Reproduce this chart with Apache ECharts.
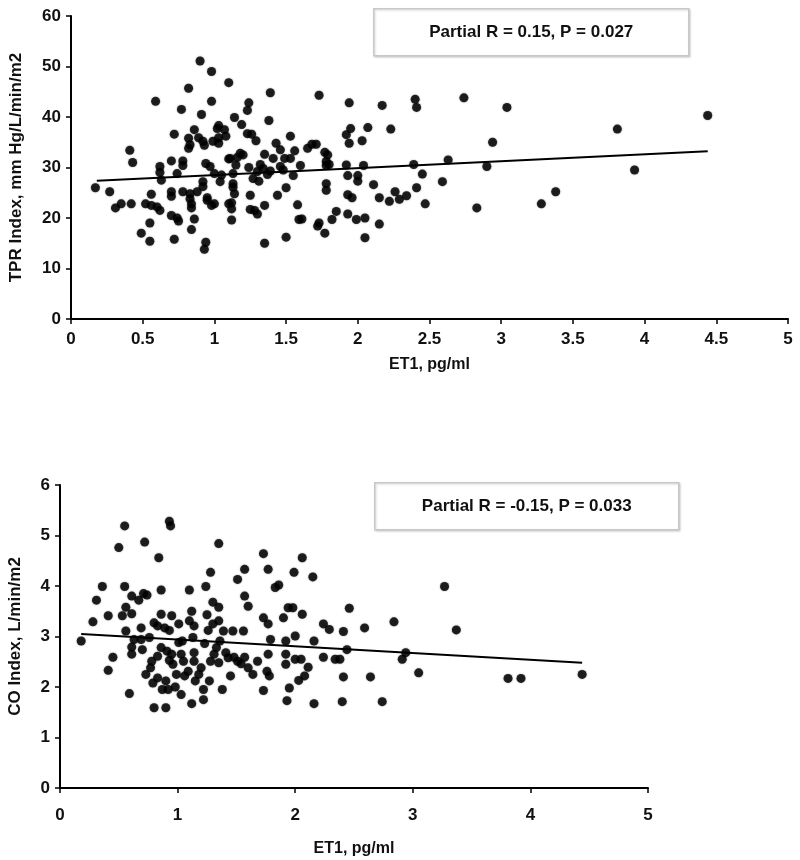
<!DOCTYPE html>
<html>
<head>
<meta charset="utf-8">
<script src="https://cdn.jsdelivr.net/npm/echarts@6/dist/echarts.min.js"></script>
<style>html,body{margin:0;padding:0;background:#fff;}#c{width:800px;height:860px;}</style>
</head>
<body>
<div id="c"></div>
<script>
// ---- Top panel: TPR Index vs ET1 ----
var tprX = [0.17,0.27,0.31,0.35,0.41,0.43,0.42,0.49,0.52,0.55,0.55,0.56,0.56,0.59,0.60,0.62,0.62,0.63,0.62,0.70,0.70,0.70,0.70,0.72,0.72,0.74,0.74,0.75,0.77,0.78,0.78,0.78,0.82,0.82,0.83,0.82,0.83,0.83,0.84,0.84,0.84,0.86,0.86,0.88,0.89,0.90,0.91,0.92,0.92,0.92,0.93,0.93,0.94,0.94,0.95,0.95,0.98,0.98,0.98,0.97,0.99,1.00,1.00,1.02,1.03,1.03,1.03,1.04,1.05,1.07,1.08,1.10,1.10,1.10,1.11,1.12,1.12,1.12,1.13,1.13,1.13,1.14,1.14,1.15,1.16,1.18,1.19,1.20,1.23,1.24,1.23,1.24,1.25,1.25,1.26,1.27,1.28,1.29,1.30,1.30,1.31,1.32,1.34,1.35,1.35,1.35,1.37,1.38,1.39,1.39,1.41,1.43,1.44,1.46,1.46,1.48,1.49,1.50,1.50,1.53,1.53,1.55,1.56,1.58,1.59,1.61,1.60,1.65,1.68,1.71,1.72,1.73,1.73,1.77,1.77,1.78,1.78,1.78,1.78,1.79,1.80,1.82,1.85,1.92,1.92,1.93,1.93,1.93,1.94,1.94,1.95,1.96,1.99,2.00,2.00,2.03,2.04,2.05,2.05,2.07,2.11,2.15,2.15,2.17,2.22,2.23,2.26,2.29,2.34,2.39,2.40,2.41,2.41,2.45,2.47,2.59,2.63,2.74,2.83,2.90,2.94,3.04,3.28,3.38,3.81,3.93,4.44];
var tprY = [26.0,25.2,22.0,22.8,33.4,31.0,22.8,17.0,22.8,15.4,19.0,24.7,22.5,43.1,22.2,30.2,29.0,27.5,21.5,20.5,31.3,25.2,24.3,36.6,15.8,20.0,28.8,19.4,41.5,31.3,30.4,25.2,45.7,35.8,34.5,33.8,24.8,23.8,22.8,22.0,17.7,37.5,19.8,25.2,35.9,51.1,40.5,35.2,27.2,26.2,34.4,13.8,15.2,30.8,24.0,23.5,49.0,43.1,22.5,30.2,35.2,28.8,22.8,37.7,34.8,35.9,38.3,27.2,28.5,37.5,36.2,22.8,46.8,31.7,31.8,23.0,21.8,19.6,28.8,26.8,26.1,24.8,39.9,30.5,32.0,32.8,38.5,32.5,41.3,42.8,36.7,30.0,24.5,21.7,36.6,27.8,21.5,35.3,20.8,29.2,27.3,30.6,29.8,15.0,22.5,32.6,28.6,39.3,44.8,29.3,31.8,34.8,24.5,33.5,30.2,29.5,31.8,26.0,16.2,36.2,31.8,28.4,33.3,22.6,19.7,19.8,30.4,33.8,34.6,34.6,18.4,19.0,44.3,17.0,33.0,31.2,30.4,26.8,25.5,32.5,30.6,19.7,21.3,36.5,30.5,28.4,24.6,20.8,42.8,34.8,37.7,24.0,19.7,28.4,27.3,35.3,30.4,20.0,16.1,37.9,26.6,18.8,24.0,42.3,23.3,37.6,25.2,23.7,24.4,30.6,43.5,26.0,41.9,28.7,22.8,27.2,31.5,43.8,22.0,30.2,35.0,41.9,22.8,25.2,37.6,29.5,40.3];
var tprTrendX = [0.18, 4.44];
var tprTrendY = [27.4, 33.2];
var tprLabel = 'Partial R = 0.15, P = 0.027';

// ---- Bottom panel: CO Index vs ET1 ----
var coX = [0.18,0.28,0.31,0.36,0.41,0.41,0.45,0.50,0.53,0.55,0.55,0.56,0.56,0.59,0.61,0.61,0.61,0.61,0.63,0.67,0.69,0.69,0.70,0.72,0.71,0.74,0.73,0.76,0.77,0.78,0.79,0.80,0.80,0.83,0.83,0.83,0.84,0.86,0.86,0.86,0.87,0.89,0.90,0.90,0.91,0.92,0.93,0.94,0.93,0.93,0.95,0.95,0.96,0.99,0.98,1.01,1.01,1.03,1.03,1.04,1.05,1.06,1.09,1.10,1.10,1.12,1.12,1.13,1.14,1.14,1.14,1.15,1.18,1.20,1.22,1.22,1.23,1.24,1.25,1.26,1.27,1.28,1.28,1.30,1.30,1.31,1.33,1.35,1.35,1.35,1.35,1.36,1.38,1.39,1.41,1.43,1.45,1.47,1.48,1.51,1.51,1.54,1.56,1.57,1.57,1.57,1.60,1.60,1.64,1.68,1.73,1.73,1.73,1.76,1.77,1.77,1.77,1.79,1.78,1.83,1.86,1.90,1.92,1.92,1.92,1.93,1.94,1.95,1.98,1.99,2.00,2.00,2.03,2.05,2.06,2.06,2.08,2.11,2.15,2.16,2.16,2.24,2.24,2.29,2.34,2.38,2.40,2.41,2.41,2.44,2.46,2.59,2.64,2.74,2.84,2.91,2.94,3.05,3.27,3.37,3.81,3.92,4.44];
var coY = [2.91,3.29,3.72,3.99,3.41,2.33,2.59,4.76,3.41,5.19,3.99,3.11,3.58,1.87,3.80,3.45,2.79,2.65,2.94,3.72,3.17,2.94,2.74,4.87,3.85,3.82,2.25,2.98,2.38,2.51,2.08,1.59,3.27,3.21,2.61,2.18,4.56,3.92,2.78,3.44,1.95,3.17,1.59,2.12,2.71,1.95,5.28,5.19,2.53,3.12,3.41,2.65,2.45,2.25,2.00,2.88,3.25,1.85,2.65,2.91,2.51,2.22,2.31,3.92,3.31,1.67,3.50,2.98,3.21,2.68,2.51,2.12,2.25,2.38,1.95,1.75,2.86,3.99,3.43,3.12,2.12,4.27,2.51,3.68,3.25,2.65,2.78,2.48,4.84,3.58,3.31,2.91,1.95,3.11,2.68,2.58,2.22,3.11,2.59,4.13,2.51,2.46,3.11,4.33,3.80,2.59,3.60,2.38,2.25,2.51,4.64,3.37,1.93,2.31,3.25,4.33,2.65,2.94,2.22,3.97,4.02,3.37,2.91,2.65,2.45,1.73,3.57,1.98,3.57,4.27,3.01,2.55,2.13,2.55,4.56,3.44,2.22,2.39,4.18,2.91,1.67,3.25,2.59,3.14,2.55,2.55,1.71,3.10,2.20,2.74,3.56,3.17,2.20,1.71,3.29,2.55,2.68,2.28,3.99,3.13,2.17,2.17,2.25];
var coTrendX = [0.18, 4.44];
var coTrendY = [3.05, 2.48];
var coLabel = 'Partial R = -0.15, P = 0.033';

var xTitle = 'ET1, pg/ml';
var tprTitle = 'TPR Index, mm Hg/L/min/m2';
var coTitle = 'CO Index, L/min/m2';

function zip(a, b) { return a.map(function (v, i) { return [v, b[i]]; }); }

var tickFont = { color: '#111', fontSize: 17, fontWeight: 'bold', fontFamily: '"Liberation Sans Narrow","Arial Narrow","Liberation Sans",Arial,sans-serif' };
var titleFont = { color: '#111', fontSize: 16, fontWeight: 'bold', fontFamily: '"Liberation Sans",Arial,sans-serif' };
var axisLine = { show: true, onZero: false, lineStyle: { color: '#000', width: 2 } };
var axisTick = { show: true, inside: false, length: 5, lineStyle: { color: '#000', width: 1.5 } };

function xAxis(grid, interval, gap, margin) {
  return {
    type: 'value', gridIndex: grid, min: 0, max: 5, interval: interval,
    axisLine: axisLine, axisTick: axisTick, splitLine: { show: false },
    axisLabel: Object.assign({ margin: margin }, tickFont),
    name: xTitle, nameLocation: 'middle', nameGap: gap, nameTextStyle: titleFont
  };
}
function yAxis(grid, max, interval, name, gap) {
  return {
    type: 'value', gridIndex: grid, min: 0, max: max, interval: interval,
    axisLine: axisLine, axisTick: axisTick, splitLine: { show: false },
    axisLabel: Object.assign({ margin: 10 }, tickFont),
    name: name, nameLocation: 'middle', nameRotate: 90, nameGap: gap, nameTextStyle: Object.assign({}, titleFont, { fontSize: 17 })
  };
}
function scatter(xi, yi, data) {
  return { type: 'scatter', xAxisIndex: xi, yAxisIndex: yi, data: data, symbol: 'circle', symbolSize: 9,
    itemStyle: { color: '#000', shadowBlur: 1.5, shadowColor: 'rgba(0,0,0,0.6)' }, silent: true, animation: false };
}
function trend(xi, yi, data) {
  return { type: 'line', xAxisIndex: xi, yAxisIndex: yi, data: data, showSymbol: false, symbol: 'none',
    lineStyle: { color: '#000', width: 2 }, silent: true, animation: false };
}
function box(left, top, w, h, text) {
  return {
    type: 'group', left: left, top: top,
    children: [
      { type: 'rect', shape: { x: 0, y: 0, width: w, height: h },
        style: { fill: '#fff', stroke: '#c8c8c8', lineWidth: 1.5, shadowBlur: 2, shadowColor: 'rgba(0,0,0,0.15)', shadowOffsetX: 1, shadowOffsetY: 1 } },
      { type: 'text', x: w / 2, y: h / 2,
        style: { text: text, fill: '#111', font: 'bold 17px "Liberation Sans",Arial,sans-serif', textAlign: 'center', textVerticalAlign: 'middle' } }
    ]
  };
}

var chart = echarts.init(document.getElementById('c'), null, { renderer: 'canvas' });
chart.setOption({
  backgroundColor: '#fff',
  animation: false,
  grid: [
    { left: 71, top: 16, width: 717, height: 303, containLabel: false, outerBoundsMode: 'none' },
    { left: 60, top: 485, width: 588, height: 303, containLabel: false, outerBoundsMode: 'none' }
  ],
  xAxis: [xAxis(0, 0.5, 38, 12), xAxis(1, 1, 53, 19)],
  yAxis: [yAxis(0, 60, 10, tprTitle, 46), yAxis(1, 6, 1, coTitle, 36)],
  series: [
    scatter(0, 0, zip(tprX, tprY)),
    trend(0, 0, zip(tprTrendX, tprTrendY)),
    scatter(1, 1, zip(coX, coY)),
    trend(1, 1, zip(coTrendX, coTrendY))
  ],
  graphic: [
    box(373, 8, 315, 47, tprLabel),
    box(374, 482, 304, 47, coLabel)
  ]
});
</script>
</body>
</html>
